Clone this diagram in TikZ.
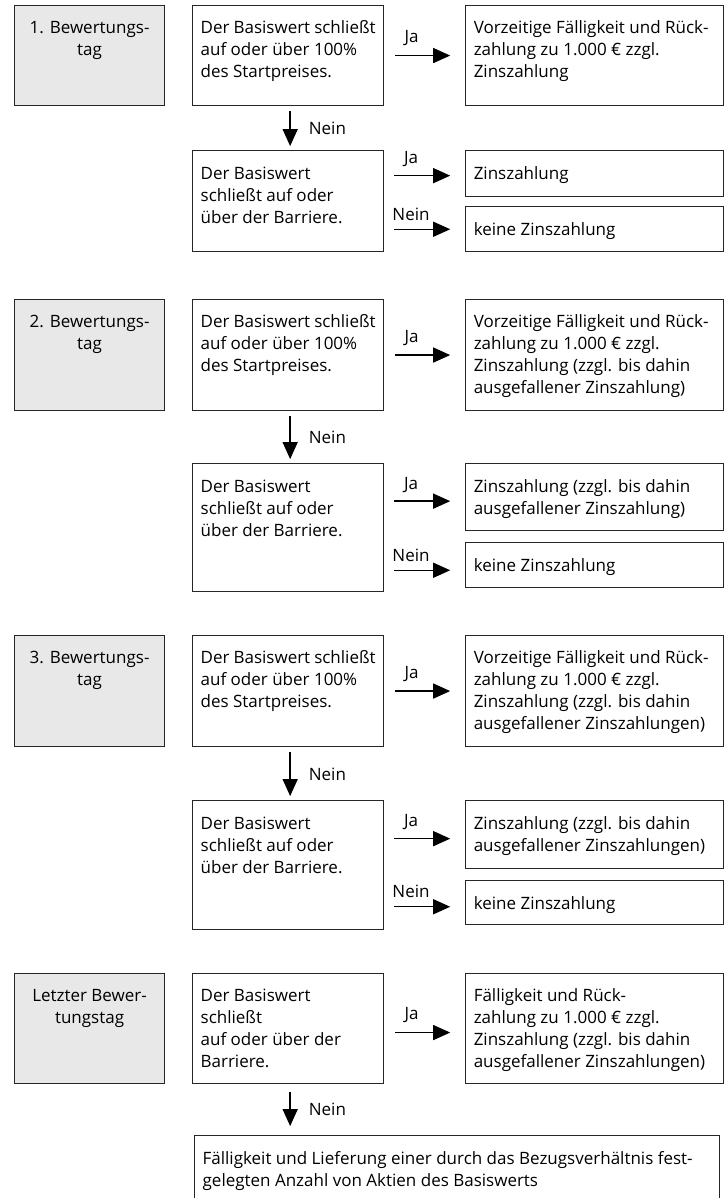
\documentclass[tikz,border=0pt]{standalone}
\usepackage{fontspec}
\setmainfont{Open Sans}
\usetikzlibrary{arrows.meta}
\definecolor{daygrey}{HTML}{E8E8E8}
\definecolor{edgegrey}{HTML}{262626}
% text cell: full box width, full box height, text
\newcommand{\cell}[3]{\parbox[c][\dimexpr#2pt-26pt\relax][t]{\dimexpr#1pt-16pt\relax}{\raggedright\strut #3}}
\newcommand{\daycell}[3]{\parbox[c][\dimexpr#2pt-26pt\relax][t]{\dimexpr#1pt-16pt\relax}{\centering\strut #3}}
\tikzset{
  box/.style={rectangle, draw=edgegrey, line width=1.1pt, inner xsep=8pt, inner ysep=13pt, anchor=north west, font=\fontsize{17}{22}\selectfont},
  daybox/.style={box, fill=daygrey},
  arr/.style={-{Triangle[length=17pt,width=15pt]}, line width=1.4pt},
  lbl/.style={inner sep=0pt, font=\fontsize{17}{22}\selectfont}
}
\begin{document}
\begin{tikzpicture}[x=1pt,y=1pt]
\useasboundingbox (0,0) rectangle (725,-1198);

% 1. Bewertungstag
\node[daybox] at (14,-5) (g1) {\daycell{150}{100}{1. Bewertungs-\\tag}};
\node[box] at ([xshift=27pt]g1.north east) (q1) {\cell{191}{100}{Der Basiswert schließt\\auf oder über 100\%\\des Startpreises.}};
\node[box] at ([xshift=81pt]q1.north east) (r1) {\cell{258}{100}{Vorzeitige Fälligkeit und Rück-\\zahlung zu 1.000 € zzgl.\\Zinszahlung}};
\node[box] at ([yshift=-44pt]q1.south west) (q1b) {\cell{191}{101}{Der Basiswert\\schließt auf oder\\über der Barriere.}};
\node[box] at (r1.west |- q1b.north) (z1) {\cell{258}{46}{Zinszahlung}};
\node[box] at ([yshift=-9pt]z1.south west) (n1) {\cell{258}{45}{keine Zinszahlung}};
\draw[arr] ([xshift=11pt]q1.east) -- ([xshift=-15pt]r1.west) node[lbl, pos=0.3, above=9pt] (ja1) {Ja};
\draw[arr] ([xshift=2pt,yshift=-5pt]q1.south) -- ([xshift=2pt,yshift=4pt]q1b.north) node[lbl, midway, right=18pt] (nein1) {Nein};
\draw[arr] ([xshift=10pt,yshift=-2pt]q1b.east |- z1.west) -- ([xshift=-15pt,yshift=-2pt]z1.west) node[lbl, pos=0.3, above=8pt] (ja1b) {Ja};
\draw[arr] ([xshift=10pt]q1b.east |- n1.west) -- ([xshift=-15pt]n1.west) node[lbl, pos=0.3, above=8pt] (nein1b) {Nein};

% 2. Bewertungstag
\node[daybox] at (14,-299) (g2) {\daycell{150}{111}{2. Bewertungs-\\tag}};
\node[box] at ([xshift=27pt]g2.north east) (q2) {\cell{191}{111}{Der Basiswert schließt\\auf oder über 100\%\\des Startpreises.}};
\node[box] at ([xshift=81pt]q2.north east) (r2) {\cell{258}{111}{Vorzeitige Fälligkeit und Rück-\\zahlung zu 1.000 € zzgl.\\Zinszahlung (zzgl. bis dahin\\ausgefallener Zinszahlung)}};
\node[box] at ([yshift=-52pt]q2.south west) (q2b) {\cell{191}{128}{Der Basiswert\\schließt auf oder\\über der Barriere.}};
\node[box] at (r2.west |- q2b.north) (z2) {\cell{258}{67}{Zinszahlung (zzgl. bis dahin\\ausgefallener Zinszahlung)}};
\node[box] at ([yshift=-11pt]z2.south west) (n2) {\cell{258}{45}{keine Zinszahlung}};
\draw[arr] ([xshift=11pt]q2.east) -- ([xshift=-15pt]r2.west) node[lbl, pos=0.3, above=9pt] (ja2) {Ja};
\draw[arr] ([xshift=2pt,yshift=-5pt]q2.south) -- ([xshift=2pt,yshift=4pt]q2b.north) node[lbl, midway, right=18pt] (nein2) {Nein};
\draw[arr] ([xshift=10pt,yshift=-4pt]q2b.east |- z2.west) -- ([xshift=-15pt,yshift=-4pt]z2.west) node[lbl, pos=0.3, above=8pt] (ja2b) {Ja};
\draw[arr] ([xshift=10pt,yshift=-5pt]q2b.east |- n2.west) -- ([xshift=-15pt,yshift=-5pt]n2.west) node[lbl, pos=0.3, above=8pt] (nein2b) {Nein};

% 3. Bewertungstag
\node[daybox] at (14,-635) (g3) {\daycell{150}{111}{3. Bewertungs-\\tag}};
\node[box] at ([xshift=27pt]g3.north east) (q3) {\cell{191}{111}{Der Basiswert schließt\\auf oder über 100\%\\des Startpreises.}};
\node[box] at ([xshift=81pt]q3.north east) (r3) {\cell{258}{111}{Vorzeitige Fälligkeit und Rück-\\zahlung zu 1.000 € zzgl.\\Zinszahlung (zzgl. bis dahin\\ausgefallener Zinszahlungen)}};
\node[box] at ([yshift=-53pt]q3.south west) (q3b) {\cell{191}{129}{Der Basiswert\\schließt auf oder\\über der Barriere.}};
\node[box] at (r3.west |- q3b.north) (z3) {\cell{258}{68}{Zinszahlung (zzgl. bis dahin\\ausgefallener Zinszahlungen)}};
\node[box] at ([yshift=-11pt]z3.south west) (n3) {\cell{258}{44}{keine Zinszahlung}};
\draw[arr] ([xshift=11pt]q3.east) -- ([xshift=-15pt]r3.west) node[lbl, pos=0.3, above=9pt] (ja3) {Ja};
\draw[arr] ([xshift=2pt,yshift=-5pt]q3.south) -- ([xshift=2pt,yshift=4pt]q3b.north) node[lbl, midway, right=18pt] (nein3) {Nein};
\draw[arr] ([xshift=10pt,yshift=-4pt]q3b.east |- z3.west) -- ([xshift=-15pt,yshift=-4pt]z3.west) node[lbl, pos=0.3, above=8pt] (ja3b) {Ja};
\draw[arr] ([xshift=10pt,yshift=-4pt]q3b.east |- n3.west) -- ([xshift=-15pt,yshift=-4pt]n3.west) node[lbl, pos=0.3, above=8pt] (nein3b) {Nein};

% Letzter Bewertungstag
\node[daybox] at (14,-973) (g4) {\daycell{150}{110}{Letzter Bewer-\\tungstag}};
\node[box] at ([xshift=27pt]g4.north east) (q4) {\cell{191}{110}{Der Basiswert\\schließt\\auf oder über der\\Barriere.}};
\node[box] at ([xshift=81pt]q4.north east) (r4) {\cell{258}{110}{Fälligkeit und Rück-\\zahlung zu 1.000 € zzgl.\\Zinszahlung (zzgl. bis dahin\\ausgefallener Zinszahlungen)}};
\node[box] at ([xshift=2pt,yshift=-51pt]q4.south west) (f4) {\cell{525}{90}{Fälligkeit und Lieferung einer durch das Bezugsverhältnis fest-\\gelegten Anzahl von Aktien des Basiswerts}};
\draw[arr] ([xshift=11pt,yshift=-4pt]q4.east) -- ([xshift=-15pt,yshift=-4pt]r4.west) node[lbl, pos=0.3, above=9pt] (ja4) {Ja};
\draw[arr] ([xshift=2pt,yshift=-8pt]q4.south) -- ([xshift=2pt,yshift=9pt]f4.north -| q4.south) node[lbl, midway, right=18pt] (nein4) {Nein};
\end{tikzpicture}
\end{document}
